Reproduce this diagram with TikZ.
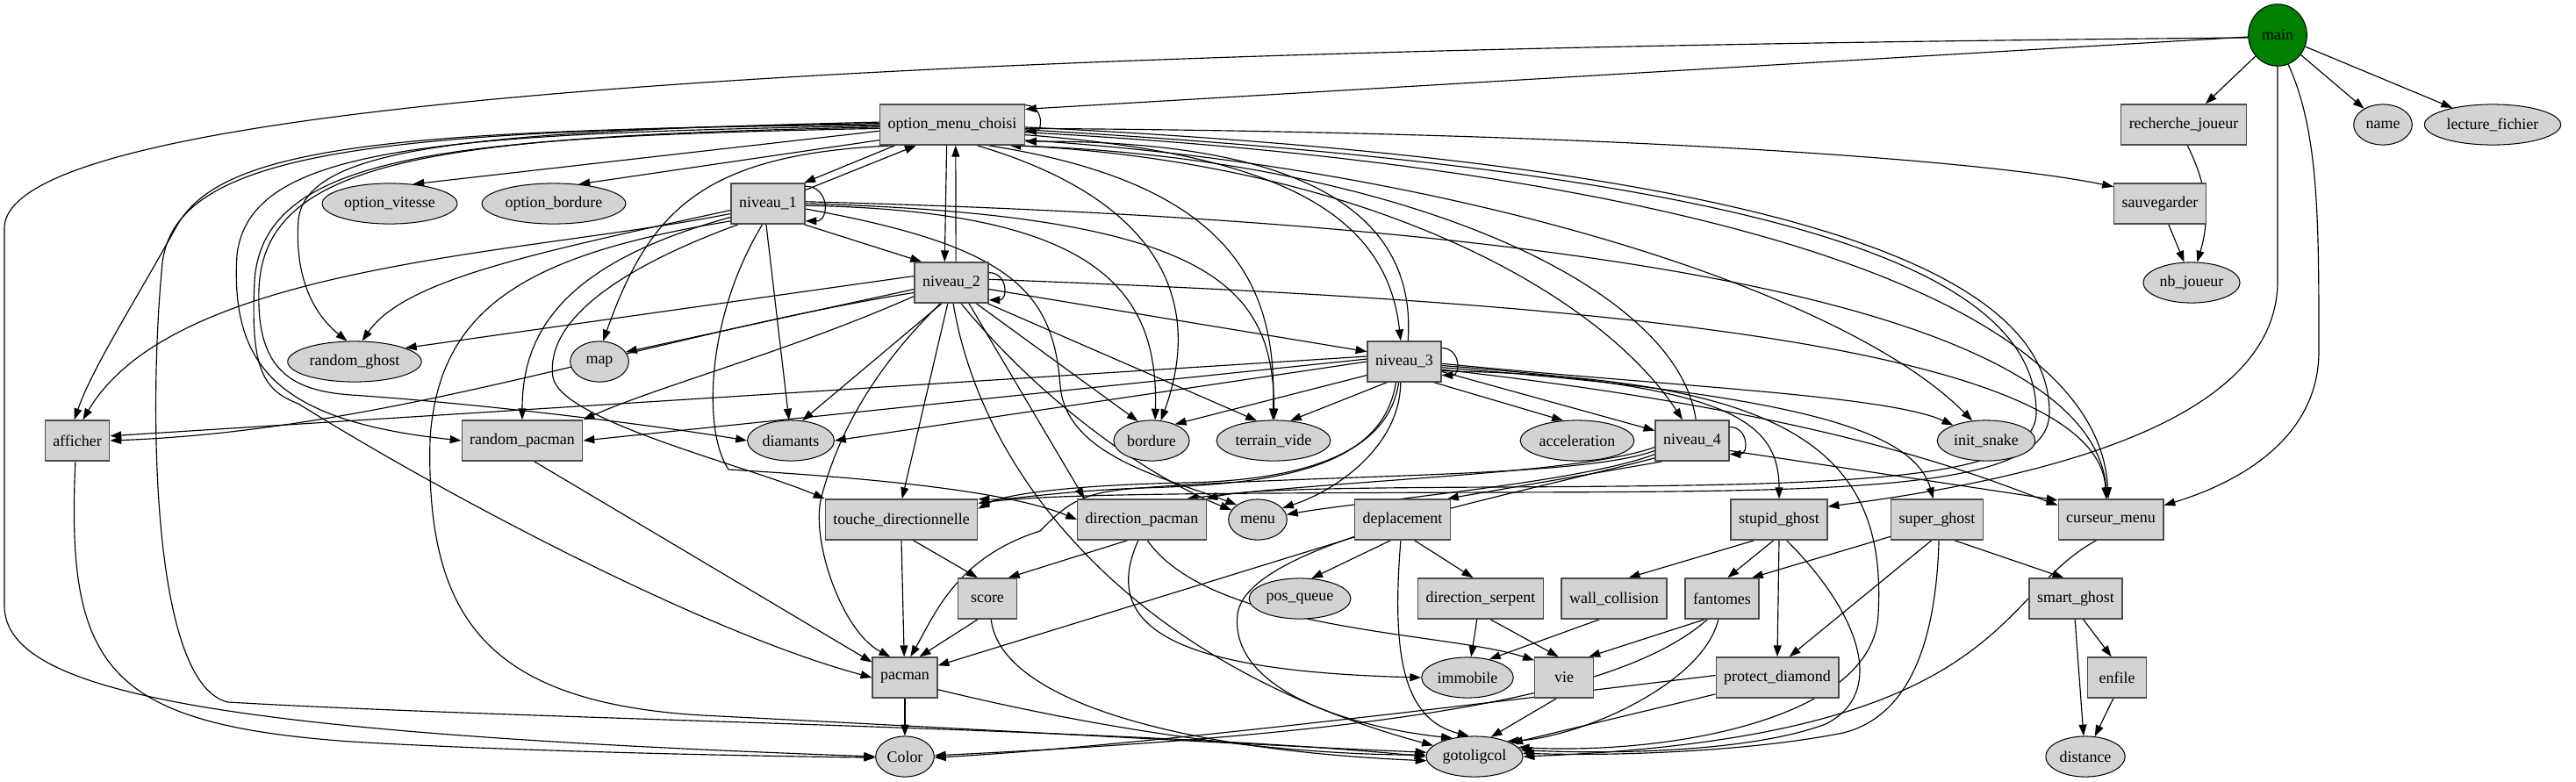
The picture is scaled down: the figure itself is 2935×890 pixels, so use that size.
\documentclass[tikz,border=0pt]{standalone}
\usepackage{fontspec}
\setmainfont{Liberation Serif}
\usetikzlibrary{arrows.meta,shapes.geometric}
\pgfdeclarelayer{background}
\pgfsetlayers{background,main}
\definecolor{nodegray}{HTML}{D3D3D3}
\definecolor{maingreen}{HTML}{008000}
\begin{document}
\begin{tikzpicture}[x=0.78pt,y=0.78pt,>={Triangle[length=10pt,width=7pt]},line width=0.9pt,
  font=\fontsize{14}{16}\selectfont,
  fn/.style={rectangle,draw=black!70,line width=1.1pt,fill=nodegray,minimum height=36pt,minimum width=52pt,inner xsep=7pt},
  leaf/.style={ellipse,draw,line width=0.8pt,fill=nodegray,minimum height=36pt,minimum width=52pt,inner xsep=2pt},
  call/.style={->,line width=0.9pt},
  selfloop/.style={call,out=0,in=0,looseness=1.8}]
\useasboundingbox (0,0) rectangle (2935,-890);
\node[leaf,fill=maingreen,minimum height=55pt] (main) at (2595,-40) {main};
\node[fn] (omc) at (1085,-142) {option\_menu\_choisi};
\node[fn] (rech) at (2488,-142) {recherche\_joueur};
\node[leaf] (name) at (2715,-142) {name};
\node[leaf] (lect) at (2840,-142) {lecture\_fichier};
\node[leaf] (ovit) at (444,-232) {option\_vitesse};
\node[leaf] (obord) at (631,-232) {option\_bordure};
\node[fn] (niv1) at (875,-232) {niveau\_1};
\node[fn] (sauv) at (2461,-232) {sauvegarder};
\node[fn] (niv2) at (1084,-322) {niveau\_2};
\node[leaf] (nbj) at (2497,-322) {nb\_joueur};
\node[leaf] (rghost) at (404,-412) {random\_ghost};
\node[leaf] (map) at (683,-412) {map};
\node[fn] (niv3) at (1600,-412) {niveau\_3};
\node[fn] (aff) at (88,-502) {afficher};
\node[fn] (rpac) at (595,-502) {random\_pacman};
\node[leaf] (diam) at (901,-502) {diamants};
\node[leaf] (bord) at (1312,-502) {bordure};
\node[leaf] (tvide) at (1451,-502) {terrain\_vide};
\node[leaf] (accel) at (1797,-502) {acceleration};
\node[fn] (niv4) at (1928,-502) {niveau\_4};
\node[leaf] (init) at (2263,-502) {init\_snake};
\node[fn] (touche) at (1027,-592) {touche\_directionnelle};
\node[fn] (dirpac) at (1301,-592) {direction\_pacman};
\node[leaf] (menu) at (1433,-592) {menu};
\node[fn] (depl) at (1598,-592) {deplacement};
\node[fn] (stupid) at (2027,-592) {stupid\_ghost};
\node[fn] (super) at (2207,-592) {super\_ghost};
\node[fn] (curs) at (2405,-592) {curseur\_menu};
\node[fn] (score) at (1125,-682) {score};
\node[leaf] (posq) at (1481,-682) {pos\_queue};
\node[fn] (dirserp) at (1687,-682) {direction\_serpent};
\node[fn] (wall) at (1839,-682) {wall\_collision};
\node[fn] (fant) at (1962,-682) {fantomes};
\node[fn] (smart) at (2365,-682) {smart\_ghost};
\node[fn] (pacman) at (1031,-772) {pacman};
\node[leaf] (immo) at (1672,-772) {immobile};
\node[fn] (vie) at (1782,-772) {vie};
\node[fn] (protect) at (2025,-772) {protect\_diamond};
\node[fn] (enfile) at (2412,-772) {enfile};
\node[leaf] (color) at (1031,-862) {Color};
\node[leaf] (goto) at (1680,-862) {gotoligcol};
\node[leaf] (dist) at (2376,-862) {distance};
\begin{pgfonlayer}{background}
% main
\draw[call] (main) -- (omc.12);
\draw[call] (main.185) .. controls (1200,-55) and (5,-100) .. (5,-260) -- (5,-690) .. controls (5,-790) and (250,-835) .. (color.west);
\draw[call] (main) -- (rech);
\draw[call] (main) -- (name);
\draw[call] (main) -- (lect);
\draw[call] (main.south) -- (2595,-320) .. controls (2595,-480) and (2330,-545) .. (stupid.15);
\draw[call] (main.-70) .. controls (2642,-150) and (2642,-250) .. (2642,-400) .. controls (2642,-500) and (2550,-550) .. (curs.15);
\draw[call] (rech.-80) .. controls (2520,-220) and (2515,-260) .. (nbj.75);
\draw[call] (sauv) -- (nbj.110);
% option_menu_choisi
\draw[selfloop] (omc.15) to (omc.-5);
\draw[call] (omc.-160) -- (niv1.30);
\draw[call] ([xshift=-5pt]omc.south) -- ([xshift=-6pt]niv2.north);
\draw[call] (omc.-8) .. controls (1450,-175) and (1580,-240) .. (niv3.100);
\draw[call] (omc.-18) .. controls (1550,-185) and (1820,-330) .. (niv4.115);
\draw[call] (omc.-3) .. controls (1800,-150) and (2250,-180) .. (sauv.160);
\draw[call] (omc.-12) .. controls (1650,-190) and (2100,-330) .. (init.125);
\draw[call] (omc.-6) .. controls (1900,-190) and (2390,-330) .. (curs.97);
\draw[call] (omc.-40) .. controls (1330,-230) and (1370,-350) .. (bord.65);
\draw[call] (omc.-30) .. controls (1410,-210) and (1455,-330) .. (tvide.92);
\draw[call] (omc.-2) .. controls (2000,-185) and (2335,-300) .. (2335,-470) .. controls (2335,-560) and (2100,-560) .. (1700,-561) .. controls (1400,-562) and (1200,-562) .. (touche.12);
\draw[call] (omc.-4) .. controls (2000,-195) and (2320,-300) .. (2320,-470) .. controls (2320,-550) and (2100,-553) .. (1700,-555) .. controls (1500,-556) and (1420,-558) .. (dirpac.18);
\draw[call] (omc.185) -- (ovit.40);
\draw[call] (omc.192) -- (obord.38);
\draw[call] (omc.178) .. controls (550,-150) and (350,-165) .. (340,-250) .. controls (335,-320) and (360,-360) .. (rghost.110);
\draw[call] (omc.200) .. controls (800,-175) and (740,-240) .. (map.80);
\draw[call] (omc.180) .. controls (450,-148) and (250,-165) .. (200,-260) .. controls (150,-350) and (105,-420) .. (aff.98);
\draw[call] (omc.181) .. controls (480,-152) and (285,-170) .. (270,-290) .. controls (262,-420) and (320,-480) .. (rpac.west);
\draw[call] (omc.182) .. controls (500,-155) and (300,-180) .. (295,-330) .. controls (292,-420) and (330,-445) .. (400,-450) .. controls (550,-460) and (750,-485) .. (diam.west);
\draw[call] (omc.183) .. controls (510,-156) and (300,-175) .. (290,-320) .. controls (285,-420) and (300,-445) .. (340,-460) .. controls (500,-560) and (800,-720) .. (pacman.west);
\draw[call] (omc.179) .. controls (460,-150) and (200,-165) .. (185,-300) .. controls (170,-450) and (170,-780) .. (260,-800) .. controls (600,-820) and (1300,-830) .. (goto.west);
% niveau_1
\draw[call] (niv1.20) -- (omc.-150);
\draw[selfloop] (niv1.25) to (niv1.-25);
\draw[call] (niv1.-30) -- (niv2.145);
\draw[call] (niv1.195) .. controls (600,-290) and (200,-300) .. (aff.75);
\draw[call] (niv1.190) .. controls (600,-290) and (460,-320) .. (rghost.70);
\draw[call] (niv1.200) .. controls (640,-300) and (595,-380) .. (rpac.north);
\draw[call] (niv1.-95) -- (diam.95);
\draw[call] (niv1.-105) .. controls (805,-360) and (800,-490) .. (830,-535) .. controls (1000,-545) and (1150,-560) .. (dirpac.west);
\draw[call] (niv1.215) .. controls (720,-300) and (620,-360) .. (630,-430) .. controls (640,-480) and (850,-530) .. (touche.north west);
\draw[call] (niv1.-8) .. controls (1150,-280) and (1200,-330) .. (1208,-440) .. controls (1215,-520) and (1330,-545) .. (menu.145);
\draw[call] (niv1.-3) .. controls (1250,-240) and (1320,-330) .. (bord.80);
\draw[call] (niv1.0) .. controls (1390,-245) and (1450,-330) .. (tvide.88);
\draw[call] (niv1.3) .. controls (1700,-250) and (2380,-330) .. (curs.100);
\draw[call] (niv1.205) .. controls (600,-290) and (500,-350) .. (490,-500) .. controls (485,-700) and (550,-800) .. (800,-815) .. controls (1100,-830) and (1450,-850) .. (goto.175);
% niveau_2
\draw[call] ([xshift=4pt]niv2.north) -- ([xshift=3pt]omc.south);
\draw[selfloop] (niv2.15) to (niv2.-25);
\draw[call] (niv2.-10) -- (niv3.165);
\draw[call] (niv2.170) -- (rghost.15);
\draw[call] (niv2.190) -- (map.20);
\draw[call] (niv2.195) .. controls (750,-380) and (450,-490) .. (aff.east);
\draw[call] (niv2.200) .. controls (900,-400) and (750,-440) .. (rpac.north east);
\draw[call] (niv2.-115) -- (diam.60);
\draw[call] (niv2.-40) -- (bord.125);
\draw[call] (niv2.-30) -- (tvide.130);
\draw[call] (niv2.-100) -- (touche.88);
\draw[call] (niv2.-50) -- (dirpac.160);
\draw[call] (niv2.-65) .. controls (1180,-450) and (1300,-540) .. (menu.160);
\draw[call] (niv2.-118) .. controls (985,-430) and (950,-510) .. (935,-570) .. controls (925,-620) and (960,-720) .. (pacman.125);
\draw[call] (niv2.-85) .. controls (1120,-550) and (1300,-760) .. (goto.165);
\draw[call] (niv2.5) .. controls (1700,-340) and (2390,-380) .. (curs.103);
% niveau_3
\draw[call] (niv3.80) .. controls (1615,-240) and (1480,-160) .. (omc.-13);
\draw[selfloop] (niv3.20) to (niv3.-20);
\draw[call] (niv3.-15) -- (niv4.165);
\draw[call] (niv3.-35) -- (accel.125);
\draw[call] (niv3.-3) .. controls (1900,-440) and (2150,-450) .. (init.155);
\draw[call] (niv3.-6) .. controls (1950,-440) and (2027,-470) .. (stupid.north);
\draw[call] (niv3.-9) .. controls (2050,-450) and (2180,-490) .. (super.100);
\draw[call] (niv3.-12) .. controls (2080,-470) and (2250,-540) .. (curs.165);
\draw[call] (niv3.-14) .. controls (2050,-430) and (2150,-520) .. (2140,-700) .. controls (2135,-820) and (1900,-860) .. (goto.12);
\draw[call] (niv3.172) -- (aff.8);
\draw[call] (niv3.176) -- (rpac.east);
\draw[call] (niv3.180) -- (diam.east);
\draw[call] (niv3.-160) -- (bord.35);
\draw[call] (niv3.-130) -- (tvide.50);
\draw[call] (niv3.-100) .. controls (1595,-510) and (1520,-560) .. (menu.25);
\draw[call] (niv3.-105) .. controls (1580,-530) and (1450,-548) .. (1350,-550) .. controls (1250,-552) and (1150,-560) .. (touche.8);
\draw[call] (niv3.-112) .. controls (1575,-535) and (1450,-552) .. (1300,-556) .. controls (1230,-560) and (1215,-575) .. (1185,-605) .. controls (1090,-635) and (1065,-700) .. (pacman.75);
% niveau_4
\draw[call] (niv4.80) .. controls (1910,-320) and (1580,-180) .. (omc.-20);
\draw[selfloop] (niv4.20) to (niv4.-20);
\draw[call] (niv4.-15) -- (curs.160);
\draw[call] (niv4.-145) -- (depl.25);
\draw[call] (niv4.-160) .. controls (1800,-550) and (1560,-570) .. (menu.10);
\draw[call] (niv4.-165) .. controls (1800,-545) and (1500,-540) .. (1300,-556) .. controls (1200,-560) and (1150,-570) .. (touche.15);
\draw[call] (niv4.-170) .. controls (1800,-540) and (1550,-545) .. (dirpac.25);
\draw[call] (niv4.-155) .. controls (1700,-570) and (1420,-620) .. (1410,-700) .. controls (1400,-790) and (1550,-830) .. (goto.140);
% lower calls
\draw[call] (aff.-95) .. controls (75,-760) and (120,-825) .. (400,-845) .. controls (600,-857) and (900,-862) .. (color.182);
\draw[call] (rpac.-60) -- (pacman.155);
\draw[call] (touche.-60) -- (score.115);
\draw[call] (touche.-90) -- (pacman.92);
\draw[call] (dirpac.-125) -- (score.45);
\draw[call] (dirpac.-100) .. controls (1250,-720) and (1350,-765) .. (immo.west);
\draw[call] (dirpac.-75) .. controls (1380,-720) and (1650,-720) .. (vie.150);
\draw[call] (score.-115) -- (pacman.55);
\draw[call] (score.-80) .. controls (1140,-800) and (1350,-855) .. (goto.185);
\draw[call] (pacman) -- (color);
\draw[call] (pacman.-20) .. controls (1250,-830) and (1450,-860) .. (goto.178);
\draw[call] (depl.-160) -- (pacman.20);
\draw[call] (depl.-120) -- (posq.60);
\draw[call] (depl.-60) -- (dirserp.110);
\draw[call] (depl.-95) .. controls (1585,-750) and (1600,-820) .. (goto.105);
\draw[call] (dirserp.-100) -- (immo.80);
\draw[call] (dirserp.-65) -- (vie.105);
\draw[call] (wall.-125) -- (immo.40);
\draw[call] (vie.-110) -- (goto.50);
\draw[call] (stupid.-140) -- (wall.55);
\draw[call] (stupid.-105) -- (fant.75);
\draw[call] (stupid.-90) -- (protect.90);
\draw[call] (stupid.-70) .. controls (2120,-700) and (2150,-790) .. (2080,-825) .. controls (2000,-855) and (1850,-860) .. (goto.8);
\draw[call] (super.-160) -- (fant.35);
\draw[call] (super.-105) -- (protect.60);
\draw[call] (super.-50) -- (smart.120);
\draw[call] (super.-85) .. controls (2205,-760) and (2160,-820) .. (2100,-835) .. controls (2000,-855) and (1850,-862) .. (goto.4);
\draw[call] (fant.-130) -- (vie.40);
\draw[call] (fant.-125) .. controls (1850,-790) and (1600,-835) .. (color.2);
\draw[call] (fant.-100) .. controls (1940,-780) and (1800,-840) .. (goto.25);
\draw[call] (protect.178) .. controls (1700,-800) and (1300,-850) .. (color.-2);
\draw[call] (protect.-165) -- (goto.20);
\draw[call] (smart.-70) -- (enfile.105);
\draw[call] (smart.-92) -- (dist.95);
\draw[call] (enfile.-100) -- (dist.65);
\draw[call] (curs.-125) .. controls (2270,-680) and (2290,-840) .. (goto.0);
\end{pgfonlayer}
\end{tikzpicture}
\end{document}
